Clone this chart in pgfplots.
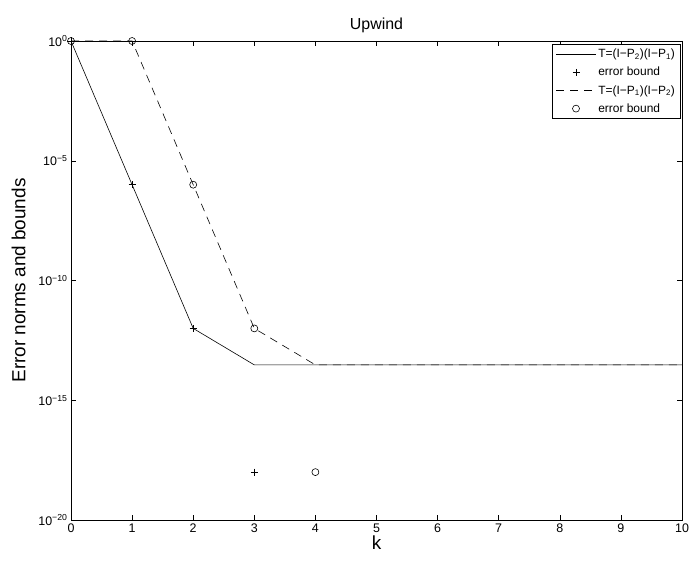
\documentclass[border=0pt]{standalone}
\usepackage{fontspec}
\setmainfont{Liberation Sans}
\usepackage{pgfplots}
\pgfplotsset{compat=1.18}
\begin{document}
\begin{tikzpicture}
\begin{axis}[
  scale only axis,
  width=611bp, height=479bp,
  ymode=log,
  xmin=0, xmax=10,
  ymin=1e-20, ymax=1,
  xtick={0,1,...,10},
  ytick={1e-20,1e-15,1e-10,1e-5,1},
  yticklabels={10\textsuperscript{−20},10\textsuperscript{−15},10\textsuperscript{−10},10\textsuperscript{−5},10\textsuperscript{0}},
  minor tick num=0,
  yminorticks=false,
  tick align=inside,
  major tick length=5bp,
  tick style={black, line width=0.5pt},
  axis line style={line width=0.8pt},
  /pgf/number format/assume math mode=true,
  tick label style={font=\fontsize{12.5}{14}\selectfont},
  xlabel={k},
  ylabel={Error norms and bounds},
  title={Upwind},
  label style={font=\fontsize{19}{22}\selectfont},
  title style={font=\fontsize{16}{18}\selectfont, yshift=-1bp},
  xlabel style={yshift=3bp},
  ylabel style={yshift=6bp},
  legend style={at={(rel axis cs:0.997,0.994)}, anchor=north east, font=\fontsize{12}{14}\selectfont, draw=black, line width=0.5pt, row sep=4bp, inner sep=3bp},
  legend cell align=left,
  legend image code/.code={\draw[mark repeat=2,mark phase=2,#1] plot coordinates {(0bp,0bp) (20bp,0bp) (40bp,0bp)};},
  legend image post style={line width=0.6pt},
  every axis plot/.append style={line width=0.6pt, black},
]
\addplot[solid, mark=none] coordinates {(0,1) (1,1e-6) (2,1e-12) (3,3e-14) (4,3e-14) (5,3e-14) (6,3e-14) (7,3e-14) (8,3e-14) (9,3e-14) (10,3e-14)};
\addlegendentry{T=(I−P\textsubscript{2})(I−P\textsubscript{1})}
\addplot[only marks, mark=+, mark size=3.5bp] coordinates {(0,1) (1,1e-6) (2,1e-12) (3,1e-18)};
\addlegendentry{error bound}
\addplot[dash pattern=on 8bp off 6bp, mark=none] coordinates {(0,1) (1,1) (2,1e-6) (3,1e-12) (4,3e-14) (5,3e-14) (6,3e-14) (7,3e-14) (8,3e-14) (9,3e-14) (10,3e-14)};
\addlegendentry{T=(I−P\textsubscript{1})(I−P\textsubscript{2})}
\addplot[only marks, mark=o, mark size=3.5bp] coordinates {(0,1) (1,1) (2,1e-6) (3,1e-12) (4,1e-18)};
\addlegendentry{error bound}
\end{axis}
\pgfresetboundingbox
\path (current axis.south west) ++(-71bp,-41bp) coordinate (bl);
\path (current axis.north east) ++(9bp,41bp) coordinate (tr);
\path (bl) rectangle (tr);
\end{tikzpicture}
\end{document}
